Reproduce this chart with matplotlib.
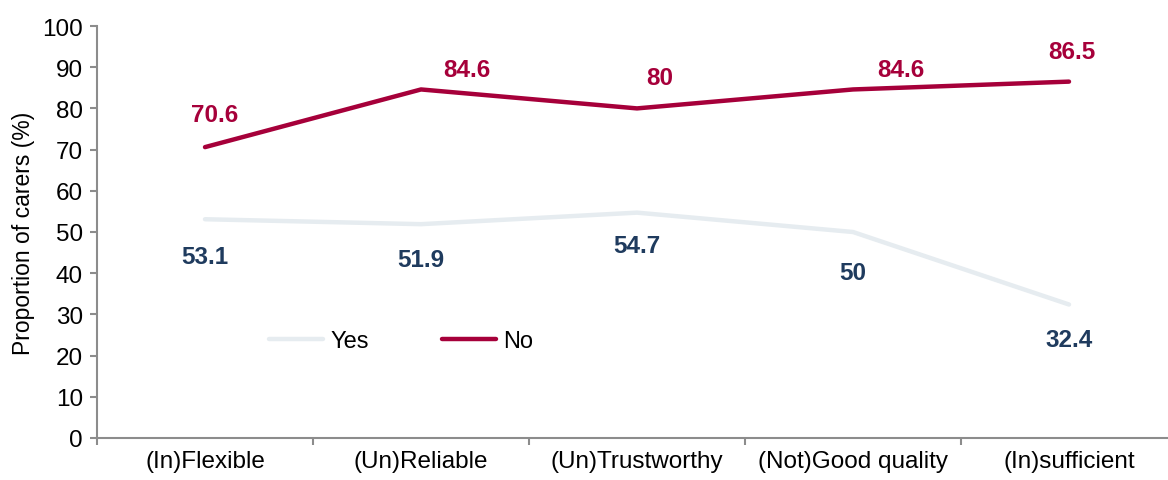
import matplotlib.pyplot as plt
import numpy as np

categories = ['(In)Flexible', '(Un)Reliable', '(Un)Trustworthy', '(Not)Good quality', '(In)sufficient']
yes_vals = [53.1, 51.9, 54.7, 50, 32.4]
no_vals = [70.6, 84.6, 80, 84.6, 86.5]
yes_labels = ['53.1', '51.9', '54.7', '50', '32.4']
no_labels = ['70.6', '84.6', '80', '84.6', '86.5']

# label offsets in pixels (hand placed in the original)
no_off = [(10, 33), (46, 20), (23, 31), (48, 20), (3, 30)]
yes_off = [(0, -37), (0, -35), (0, -33), (0, -40), (0, -35)]

plt.rcParams['font.family'] = ['Liberation Sans', 'DejaVu Sans']

fig = plt.figure(figsize=(11.68, 4.81), dpi=100)
ax = fig.add_axes([97 / 1168, 42 / 481, 1080 / 1168, 412 / 481])

x = np.arange(len(categories))
yes_col = '#E6ECF0'
no_col = '#A6003A'
lab_blue = '#1F3B5E'

ax.plot(x, yes_vals, color=yes_col, lw=3.2, solid_capstyle='round', label='Yes')
ax.plot(x, no_vals, color=no_col, lw=3.2, solid_capstyle='round', label='No')

for i in range(len(x)):
    ax.annotate(no_labels[i], (x[i], no_vals[i]), xytext=no_off[i], textcoords='offset pixels',
                ha='center', va='center', color=no_col, fontsize=17.5, fontweight='bold')
    ax.annotate(yes_labels[i], (x[i], yes_vals[i]), xytext=yes_off[i], textcoords='offset pixels',
                ha='center', va='center', color=lab_blue, fontsize=17.5, fontweight='bold')

ax.set_xlim(-0.5, 4.5)
ax.set_ylim(0, 100)
ax.set_yticks(range(0, 101, 10))
ax.set_xticks(x)
ax.set_xticklabels(categories, fontsize=17.5)
ax.set_xticks(np.arange(-0.5, 5, 1), minor=True)
ax.tick_params(axis='x', which='major', length=0, pad=9)
ax.tick_params(axis='x', which='minor', length=5, direction='out', color='#8C8C8C', width=1.5)
ax.tick_params(axis='y', length=5, direction='out', color='#8C8C8C', width=1.5, labelsize=17.5, pad=5)

for s in ['top', 'right']:
    ax.spines[s].set_visible(False)
for s in ['left', 'bottom']:
    ax.spines[s].set_color('#8C8C8C')
    ax.spines[s].set_linewidth(1.5)

ax.set_ylabel('Proportion of carers (%)', fontsize=16.5, labelpad=5)

ax.legend(loc='center left', bbox_to_anchor=(0.159, 0.235), ncol=2, frameon=False, fontsize=17,
          handlelength=2.3, handletextpad=0.3, columnspacing=3.1, borderpad=0, borderaxespad=0)

fig.savefig('out.png', dpi=100)
